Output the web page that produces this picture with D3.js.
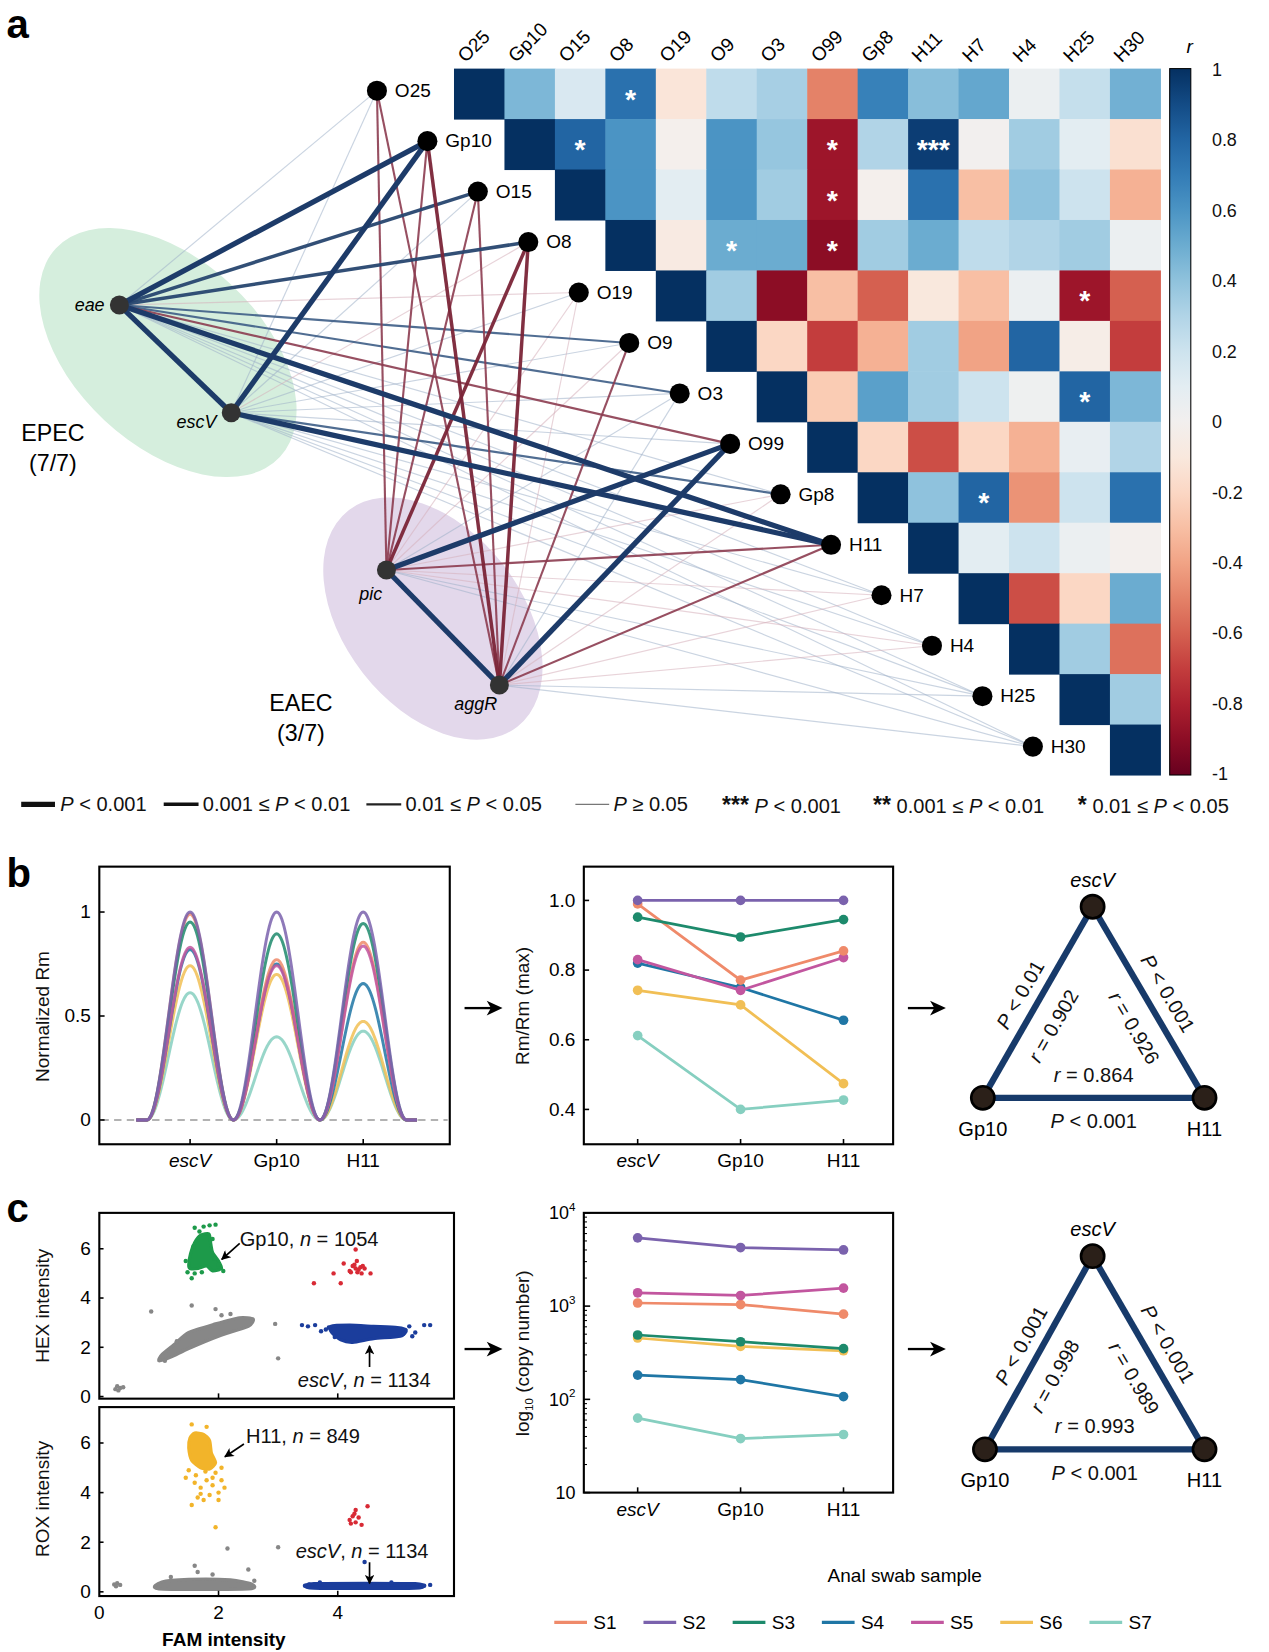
<!DOCTYPE html>
<html><head><meta charset="utf-8">
<script src="https://cdn.jsdelivr.net/npm/d3@7"></script>
<style>body{margin:0;background:#fff} text{font-family:Arial,"Liberation Sans",sans-serif}</style>
</head><body><svg id="fig"></svg>
<script>
// ---------------- DATA ----------------
const targets = ["O25","Gp10","O15","O8","O19","O9","O3","O99","Gp8","H11","H7","H4","H25","H30"];
// upper-triangle correlation rows (each row starts at the diagonal)
const corrRows = [
  [1, 0.45, 0.15, 0.75, -0.12, 0.25, 0.33, -0.5, 0.68, 0.42, 0.52, 0.05, 0.23, 0.48],
  [1, 0.8, 0.6, -0.02, 0.6, 0.38, -0.85, 0.3, 0.95, 0.0, 0.35, 0.1, -0.15],
  [1, 0.6, 0.1, 0.6, 0.35, -0.85, -0.02, 0.75, -0.3, 0.4, 0.2, -0.35],
  [1, -0.08, 0.5, 0.5, -0.9, 0.35, 0.5, 0.25, 0.3, 0.35, 0.05],
  [1, 0.35, -0.9, -0.3, -0.6, -0.1, -0.3, 0.05, -0.85, -0.6],
  [1, -0.2, -0.7, -0.35, 0.35, -0.4, 0.8, -0.05, -0.7],
  [1, -0.25, 0.55, 0.35, 0.2, 0.03, 0.8, 0.45],
  [1, -0.2, -0.65, -0.2, -0.35, 0.07, 0.3],
  [1, 0.4, 0.8, -0.45, 0.2, 0.75],
  [1, 0.1, 0.2, 0.05, -0.01],
  [1, -0.65, -0.2, 0.5],
  [1, 0.35, -0.55],
  [1, 0.35],
  [1]
];
const stars = [[0,3,"*"],[1,2,"*"],[1,7,"*"],[1,9,"***"],[2,7,"*"],[3,5,"*"],[3,7,"*"],[4,12,"*"],[6,12,"*"],[8,10,"*"]];
const cbTicks = [1,0.8,0.6,0.4,0.2,0,-0.2,-0.4,-0.6,-0.8,-1];

const genes = ["eae","escV","pic","aggR"];
const eaeR  = [0.3, 0.9, 0.7, 0.7, -0.2, 0.5, 0.5, -0.6, 0.3, 0.9, 0.2, 0.2, 0.2, 0.2];
const eaeP  = [3,0,1,1,3,2,2,2,3,0,3,3,3,3];
const escVR = [0.3, 0.9, 0.3, -0.3, 0.2, 0.2, 0.3, 0.2, 0.6, 0.9, 0.2, 0.2, 0.2, 0.2];
const escVP = [3,0,3,3,3,3,3,3,2,0,3,3,3,3];
const picR  = [-0.6,-0.6,-0.6,-0.8,-0.2,-0.4,0.2,0.9,-0.2,-0.6,-0.3,-0.3,0.2,0.2];
const picP  = [2,2,2,1,3,3,3,0,3,2,3,3,3,3];
const aggRR = [-0.6,-0.8,-0.6,-0.8,-0.2,-0.5,0.2,0.9,-0.3,-0.6,-0.2,-0.3,0.2,0.2];
const aggRP = [2,1,2,1,3,2,3,0,3,2,3,3,3,3];
const geneGeneEdges = [["eae","escV",0.9,0],["pic","aggR",0.9,0]];

const samples = ["S1","S2","S3","S4","S5","S6","S7"];
const sampleColors = ["#ef8a6a","#7a62ad","#1d8a6c","#1f76a5","#c2569f","#f1bf55","#86cfc0"];
const markers3 = ["escV","Gp10","H11"];
const rmS1 = [0.99, 0.771, 0.855];
const rmS2 = [1.0, 1.0, 1.0];
const rmS3 = [0.952, 0.895, 0.945];
const rmS4 = [0.82, 0.75, 0.656];
const rmS5 = [0.83, 0.742, 0.836];
const rmS6 = [0.742, 0.70, 0.474];
const rmS7 = [0.612, 0.40, 0.427];
const cnS1 = [1080, 1040, 820];
const cnS2 = [5400, 4250, 4000];
const cnS3 = [490, 415, 350];
const cnS4 = [182, 163, 107];
const cnS5 = [1390, 1300, 1560];
const cnS6 = [455, 370, 332];
const cnS7 = [63, 38, 42];
const bTri = {r:["0.902","0.926","0.864"], p:["0.01","0.001","0.001"]};
const cTri = {r:["0.998","0.989","0.993"], p:["0.001","0.001","0.001"]};

// ddPCR scatter (FAM, HEX) and (FAM, ROX)
const hexGreenCore = [[1.5,5.35],[1.53,5.8],[1.6,6.25],[1.7,6.55],[1.84,6.6],[1.87,6.2],[1.9,5.85],[2.0,5.5],[2.05,5.2],[1.9,5.1],[1.8,5.3],[1.66,5.2],[1.52,5.2]];
const hexGreenPts = [[1.6,6.85],[1.75,6.9],[1.85,6.95],[1.95,6.98],[1.55,4.8],[1.6,5.0],[1.45,5.5],[2.08,5.1],[1.48,5.05],[1.93,5.6],[1.68,6.7],[1.9,6.4],[1.58,6.1],[2.0,5.35],[1.72,5.05]];
const hexGrayCore = [[1.0,1.45],[1.2,1.6],[1.5,1.95],[2.0,2.45],[2.5,2.85],[2.58,3.15],[2.35,3.2],[1.95,2.95],[1.5,2.6],[1.25,2.1],[1.05,1.7]];
const hexGrayPts = [[0.87,3.45],[1.55,3.7],[1.95,3.55],[2.05,3.3],[2.95,2.95],[3.0,1.55],[1.1,1.45],[0.27,0.3],[0.3,0.42],[0.35,0.35],[0.4,0.38],[0.32,0.25],[1.3,2.25],[2.2,3.35]];
const hexRedPts = [[3.6,4.6],[3.93,5.0],[4.05,4.6],[4.1,5.4],[4.2,5.1],[4.25,5.3],[4.3,5.2],[4.32,5.5],[4.35,5.15],[4.38,5.25],[4.4,5.0],[4.45,5.2],[4.55,5.0],[4.3,5.97],[4.22,5.05],[4.28,5.35],[4.42,5.3],[4.33,5.05]];
const hexBlueCore = [[3.88,2.85],[4.2,2.9],[4.6,2.85],[5.0,2.8],[5.15,2.7],[5.05,2.45],[4.6,2.35],[4.25,2.2],[4.05,2.3],[3.9,2.6]];
const hexBluePts = [[3.4,2.9],[3.5,2.85],[3.62,2.9],[3.72,2.65],[3.8,2.72],[5.2,2.85],[5.3,2.6],[5.45,2.9],[5.55,2.9],[5.25,2.45],[3.95,2.42],[3.85,2.8],[5.1,2.55]];
const roxYellowCore = [[1.52,6.2],[1.6,6.4],[1.75,6.35],[1.85,6.1],[1.88,5.6],[1.95,5.2],[1.85,4.95],[1.7,5.0],[1.55,5.3],[1.5,5.8]];
const roxYellowPts = [[1.55,6.75],[1.8,6.65],[1.45,4.6],[1.6,4.4],[1.7,4.2],[1.8,4.5],[1.9,4.3],[2.0,4.0],[2.05,4.5],[1.95,4.8],[2.1,4.2],[1.65,3.8],[1.75,3.7],[1.85,3.9],[1.55,3.5],[2.0,3.7],[1.95,2.6],[1.7,3.95],[1.9,4.6],[2.05,5.0],[1.62,4.7],[1.78,4.85],[1.5,4.9]];
const roxGrayCore = [[1.0,0.12],[2.5,0.12],[2.55,0.32],[2.2,0.48],[1.5,0.5],[1.05,0.4]];
const roxGrayPts = [[0.25,0.3],[0.3,0.35],[0.35,0.28],[0.28,0.22],[1.6,1.05],[1.65,0.8],[2.15,1.75],[3.0,1.8],[2.5,0.9],[1.9,0.7],[1.2,0.6],[2.6,0.45]];
const roxRedPts = [[4.2,2.9],[4.25,3.05],[4.3,3.3],[4.3,2.8],[4.35,3.0],[4.4,2.7],[4.5,3.45],[4.28,3.15],[4.22,2.75]];
const roxBlueCore = [[3.6,0.15],[5.3,0.15],[5.3,0.33],[3.6,0.33]];
const roxBluePts = [[3.45,0.25],[5.45,0.25],[5.55,0.28],[4.45,1.2],[3.52,0.3],[5.38,0.2],[3.7,0.38],[4.9,0.38]];

// ---------------- DRAW ----------------
const svg = d3.select("#fig").attr("width",1269).attr("height",1652).attr("viewBox","0 0 1202 1565");
svg.append("rect").attr("width",1202).attr("height",1565).attr("fill","#fff");
const defs = svg.append("defs");
defs.append("marker").attr("id","ah").attr("viewBox","0 0 10 10").attr("refX",9).attr("refY",5)
  .attr("markerWidth",11).attr("markerHeight",9).attr("markerUnits","userSpaceOnUse").attr("orient","auto")
  .append("path").attr("d","M0,0 L10,5 L0,10 L2.5,5 Z").attr("fill","#000");

function richText(g, x, y, parts, opts={}) {
  const t = g.append("text").attr("x",x).attr("y",y).attr("font-size",opts.size||19).attr("fill",opts.fill||"#111")
    .attr("text-anchor",opts.anchor||"start");
  if (opts.transform) t.attr("transform",opts.transform);
  if (opts.baseline) t.attr("dominant-baseline",opts.baseline);
  parts.forEach(p => {
    const s = t.append("tspan").text(p[0]);
    if (p[1]==="i") s.attr("font-style","italic");
    if (p[1]==="b") s.attr("font-weight","bold").attr("font-size",(opts.size||19)*1.15);
    if (p[1]==="sub") s.attr("font-size",(opts.size||19)*0.6).attr("dy",4);
    if (p[1]==="after") s.attr("dy",-4);
  });
  return t;
}
function panelLetter(l,x,y){ svg.append("text").attr("x",x).attr("y",y).attr("font-size",38).attr("font-weight","bold").text(l); }

// ===== Panel a =====
panelLetter("a",6,36);
const cs = 47.8, hx0 = 430, hy0 = 65;
const xH = d3.scaleBand().domain(targets).range([hx0, hx0+cs*targets.length]);
const yH = d3.scaleBand().domain(targets).range([hy0, hy0+cs*targets.length]);
const color = d3.scaleSequential(d3.interpolateRdBu).domain([-1,1]);
const gA = svg.append("g");

// ellipses
gA.append("ellipse").attr("cx",159).attr("cy",334).attr("rx",145).attr("ry",88)
  .attr("transform","rotate(43,159,334)").attr("fill","#d5eedd");
gA.append("ellipse").attr("cx",410).attr("cy",586).attr("rx",130).attr("ry",84)
  .attr("transform","rotate(52,410,586)").attr("fill","#e3d8eb");
gA.append("text").attr("x",50).attr("y",418).attr("font-size",22).attr("text-anchor","middle").text("EPEC");
gA.append("text").attr("x",50).attr("y",446).attr("font-size",22).attr("text-anchor","middle").text("(7/7)");
gA.append("text").attr("x",285).attr("y",674).attr("font-size",22).attr("text-anchor","middle").text("EAEC");
gA.append("text").attr("x",285).attr("y",702).attr("font-size",22).attr("text-anchor","middle").text("(3/7)");

const genePos = {eae:[113,289], escV:[219,391], pic:[366,540], aggR:[473,649]};
const tPos = t => [xH(t) - 73, yH(t) + cs/2 - 3];
const geneR = {eae:eaeR, escV:escVR, pic:picR, aggR:aggRR};
const geneP = {eae:eaeP, escV:escVP, pic:picP, aggR:aggRP};
const wByP = [5, 3.3, 2, 1.1];
const posCol = ["#1d3b69","#27466f","#3d5d86","#9fb0c8"];
const negCol = ["#6c1a2e","#7a2437","#8c3c50","#d6afba"];
const opByP = [1, 0.95, 0.9, 0.55];
let edges = [];
genes.forEach(g => targets.forEach((t,i) => edges.push({a:genePos[g], b:tPos(t), r:geneR[g][i], p:geneP[g][i]})));
geneGeneEdges.forEach(e => edges.push({a:genePos[e[0]], b:genePos[e[1]], r:e[2], p:e[3]}));
edges.sort((u,v)=>v.p-u.p);
gA.selectAll("line.edge").data(edges).join("line").attr("class","edge")
  .attr("x1",d=>d.a[0]).attr("y1",d=>d.a[1]).attr("x2",d=>d.b[0]).attr("y2",d=>d.b[1])
  .attr("stroke",d=>d.r>=0?posCol[d.p]:negCol[d.p]).attr("stroke-width",d=>wByP[d.p])
  .attr("stroke-opacity",d=>opByP[d.p]);

// target nodes
targets.forEach(t => {
  const [x,y] = tPos(t);
  gA.append("circle").attr("cx",x).attr("cy",y).attr("r",9.5).attr("fill","#000");
  gA.append("text").attr("x",x+17).attr("y",y+6).attr("font-size",18).text(t);
});
// gene nodes
const geneLab = {eae:[-14,6], escV:[-14,14], pic:[-4,28], aggR:[-2,24]};
genes.forEach(g => {
  const [x,y] = genePos[g];
  gA.append("circle").attr("cx",x).attr("cy",y).attr("r",9).attr("fill","#333");
  gA.append("text").attr("x",x+geneLab[g][0]).attr("y",y+geneLab[g][1]).attr("font-size",17)
    .attr("font-style","italic").attr("text-anchor","end").text(g);
});

// heatmap
const cells = [];
corrRows.forEach((row,i) => row.forEach((v,k) => cells.push({r:targets[i], c:targets[i+k], v})));
gA.selectAll("rect.cell").data(cells).join("rect").attr("class","cell")
  .attr("x",d=>xH(d.c)).attr("y",d=>yH(d.r)).attr("width",xH.bandwidth()+0.5).attr("height",yH.bandwidth()+0.5)
  .attr("fill",d=>color(d.v));
gA.selectAll("text.star").data(stars).join("text").attr("class","star")
  .attr("x",d=>xH(targets[d[1]])+cs/2).attr("y",d=>yH(targets[d[0]])+cs/2+14)
  .attr("text-anchor","middle").attr("font-size",27).attr("font-weight","bold").attr("fill","#fff").text(d=>d[2]);
targets.forEach(t => {
  const x = xH(t)+cs/2-13, y = 60;
  gA.append("text").attr("x",x).attr("y",y).attr("font-size",18).attr("transform",`rotate(-45,${x},${y})`).text(t);
});

// colorbar
const cbx = 1108, cbw = 20, cbTop = hy0, cbBot = hy0+cs*targets.length;
const grad = defs.append("linearGradient").attr("id","cbg").attr("x1",0).attr("y1",1).attr("x2",0).attr("y2",0);
d3.range(0,1.0001,0.05).forEach(s => grad.append("stop").attr("offset",s).attr("stop-color",color(-1+2*s)));
gA.append("rect").attr("x",cbx).attr("y",cbTop).attr("width",cbw).attr("height",cbBot-cbTop)
  .attr("fill","url(#cbg)").attr("stroke","#000").attr("stroke-width",1);
const cbScale = d3.scaleLinear().domain([-1,1]).range([cbBot-1, cbTop+1]);
const cbAxis = d3.axisRight(cbScale).tickValues(cbTicks).tickSize(0).tickPadding(20)
  .tickFormat(d => Math.abs(d)===1||d===0 ? String(d) : d.toFixed(1));
const cbG = gA.append("g").attr("transform",`translate(${cbx+cbw},0)`).call(cbAxis);
cbG.select(".domain").remove();
cbG.selectAll("text").attr("font-size",17).attr("fill","#111").attr("font-family","Arial, Liberation Sans, sans-serif");
gA.append("text").attr("x",1124).attr("y",50).attr("font-size",18).attr("font-style","italic").text("r");

// legend row
const ly = 768;
const legG = svg.append("g");
[[20,52,5,"#111"],[155,188,3.3,"#111"],[347,380,2,"#222"],[545,577,1.1,"#777"]].forEach(l =>
  legG.append("line").attr("x1",l[0]).attr("x2",l[1]).attr("y1",ly-6).attr("y2",ly-6).attr("stroke",l[3]).attr("stroke-width",l[2]));
richText(legG,57,ly,[["P","i"],[" < 0.001"]]);
richText(legG,192,ly,[["0.001 ≤ "],["P","i"],[" < 0.01"]]);
richText(legG,384,ly,[["0.01 ≤ "],["P","i"],[" < 0.05"]]);
richText(legG,581,ly,[["P","i"],[" ≥ 0.05"]]);
richText(legG,684,ly+2,[["***","b"],[" "],["P","i"],[" < 0.001"]]);
richText(legG,827,ly+2,[["**","b"],[" 0.001 ≤ "],["P","i"],[" < 0.01"]]);
richText(legG,1021,ly+2,[["*","b"],[" 0.01 ≤ "],["P","i"],[" < 0.05"]]);

// ===== helpers =====
function frame(g,x0,y0,x1,y1){ g.append("rect").attr("x",x0).attr("y",y0).attr("width",x1-x0).attr("height",y1-y0).attr("fill","none").attr("stroke","#000").attr("stroke-width",2); }
function bigArrow(x0,x1,y){ svg.append("line").attr("x1",x0).attr("x2",x1-10).attr("y1",y).attr("y2",y).attr("stroke","#000").attr("stroke-width",2.2);
  svg.append("path").attr("d",`M${x1},${y} L${x1-15},${y-7} L${x1-11},${y} L${x1-15},${y+7} Z`).attr("fill","#000"); }
function yLabel(g,x,y,parts,size=18){ return richText(g,x,y,parts,{size,anchor:"middle",transform:`rotate(-90,${x},${y})`}); }
function xCatLabels(g,sc,y){ markers3.forEach(m => g.append("text").attr("x",sc(m)).attr("y",y).attr("font-size",18)
  .attr("text-anchor","middle").attr("font-style",m==="escV"?"italic":"normal").text(m)); }
function xCatTicks(g,sc,yb){ markers3.forEach(m => g.append("line").attr("x1",sc(m)).attr("x2",sc(m)).attr("y1",yb).attr("y2",yb-5).attr("stroke","#000").attr("stroke-width",1.5)); }
function yTicks(g,sc,vals,fmt,x0,len=5){ vals.forEach(v => { g.append("line").attr("x1",x0).attr("x2",x0+len).attr("y1",sc(v)).attr("y2",sc(v)).attr("stroke","#000").attr("stroke-width",1.5);
  g.append("text").attr("x",x0-8).attr("y",sc(v)+6).attr("font-size",18).attr("text-anchor","end").text(fmt(v)); }); }

// ===== Panel b =====
panelLetter("b",6,840);
const gB = svg.append("g");
const rmAll = [rmS1,rmS2,rmS3,rmS4,rmS5,rmS6,rmS7];
const xBL = d3.scalePoint().domain(markers3).range([180,344]);
const yBL = d3.scaleLinear().domain([0,1]).range([1061,864]);
const halfW = (xBL("Gp10")-xBL("escV"))/2;
gB.append("line").attr("x1",96).attr("x2",424).attr("y1",yBL(0)).attr("y2",yBL(0)).attr("stroke","#999").attr("stroke-width",1.5).attr("stroke-dasharray","7,5");
function bumpPath(vals){
  const pts = [];
  for (let x = xBL("escV")-halfW-10; x <= xBL("H11")+halfW+10; x += 1) {
    let v = 0;
    markers3.forEach((m,i) => { const c = xBL(m); if (Math.abs(x-c) <= halfW) v = vals[i]*(0.5+0.5*Math.cos(Math.PI*(x-c)/halfW)); });
    pts.push([x, yBL(v)]);
  }
  return d3.line()(pts);
}
[6,5,3,0,2,4,1].forEach(i => gB.append("path").attr("d",bumpPath(rmAll[i])).attr("fill","none")
  .attr("stroke",sampleColors[i]).attr("stroke-width",2.8).attr("stroke-opacity",0.85));
frame(gB,94,821,426,1084);
yTicks(gB,yBL,[0,0.5,1],d=>String(d),94);
xCatTicks(gB,xBL,1084); xCatLabels(gB,xBL,1106);
yLabel(gB,46,963,[["Normalized Rm"]]);
bigArrow(440,476,955);

const xM = d3.scalePoint().domain(markers3).range([604,799]);
const yBM = d3.scaleLinear().domain([0.4,1.0]).range([1051,853]);
[6,5,3,4,0,2,1].forEach(i => {
  const pts = markers3.map((m,k)=>[xM(m), yBM(rmAll[i][k])]);
  gB.append("path").attr("d",d3.line()(pts)).attr("fill","none").attr("stroke",sampleColors[i]).attr("stroke-width",2.6);
  gB.selectAll(null).data(pts).join("circle").attr("cx",d=>d[0]).attr("cy",d=>d[1]).attr("r",4.6).attr("fill",sampleColors[i]);
});
frame(gB,553,821,846,1084);
yTicks(gB,yBM,[0.4,0.6,0.8,1.0],d=>d.toFixed(1),553);
xCatTicks(gB,xM,1084); xCatLabels(gB,xM,1106);
yLabel(gB,501,953,[["Rm/Rm (max)"]]);
bigArrow(860,896,955);

function triangle(g, top, left, right, labs){
  const edgeC = "#173a6a";
  [[top,left],[top,right],[left,right]].forEach(e => g.append("line").attr("x1",e[0][0]).attr("y1",e[0][1]).attr("x2",e[1][0]).attr("y2",e[1][1])
    .attr("stroke",edgeC).attr("stroke-width",6));
  [top,left,right].forEach(p => g.append("circle").attr("cx",p[0]).attr("cy",p[1]).attr("r",11).attr("fill","#2b2019").attr("stroke","#000").attr("stroke-width",2.5));
  g.append("text").attr("x",top[0]).attr("y",top[1]-19).attr("font-size",19).attr("font-style","italic").attr("text-anchor","middle").text("escV");
  g.append("text").attr("x",left[0]).attr("y",left[1]+36).attr("font-size",19).attr("text-anchor","middle").text("Gp10");
  g.append("text").attr("x",right[0]).attr("y",right[1]+36).attr("font-size",19).attr("text-anchor","middle").text("H11");
  function place(a,b,normOff,alongOff,parts){
    const mx=(a[0]+b[0])/2, my=(a[1]+b[1])/2, dx=b[0]-a[0], dy=b[1]-a[1], L=Math.hypot(dx,dy);
    const ux=dx/L, uy=dy/L; const nx=uy, ny=-ux;
    const ang = Math.atan2(dy,dx)*180/Math.PI;
    const x = mx+nx*normOff+ux*alongOff, y = my+ny*normOff+uy*alongOff;
    richText(g,x,y,parts,{size:19,anchor:"middle",baseline:"central",transform:`rotate(${ang},${x},${y})`});
  }
  place(left,top,18,-2,[["P","i"],[" < "+labs.p[0]]]);
  place(left,top,-24,-12,[["r","i"],[" = "+labs.r[0]]]);
  place(top,right,20,2,[["P","i"],[" < "+labs.p[1]]]);
  place(top,right,-24,14,[["r","i"],[" = "+labs.r[1]]]);
  richText(g,(left[0]+right[0])/2,left[1]-15,[["r","i"],[" = "+labs.r[2]]],{size:19,anchor:"middle"});
  richText(g,(left[0]+right[0])/2,left[1]+29,[["P","i"],[" < "+labs.p[2]]],{size:19,anchor:"middle"});
}
triangle(gB,[1035,859],[931,1040],[1141,1040],bTri);

// ===== Panel c =====
panelLetter("c",6,1158);
const gC = svg.append("g");
const xS = d3.scaleLinear().domain([0,5.95]).range([94,430]);
const yTop = d3.scaleLinear().domain([0,6]).range([1323,1183]);
const yBot = d3.scaleLinear().domain([0,6]).range([1508,1367]);
function cluster(core, pts, ys, col){
  if (core) gC.append("path").attr("d",d3.line().x(d=>xS(d[0])).y(d=>ys(d[1])).curve(d3.curveCardinalClosed.tension(0.3))(core))
    .attr("fill",col).attr("stroke",col).attr("stroke-width",3).attr("stroke-linejoin","round");
  gC.selectAll(null).data(pts).join("circle").attr("cx",d=>xS(d[0])).attr("cy",d=>ys(d[1])).attr("r",2.1).attr("fill",col);
}
cluster(hexGrayCore,hexGrayPts,yTop,"#878787");
cluster(hexGreenCore,hexGreenPts,yTop,"#1d9a4a");
cluster(null,hexRedPts,yTop,"#d82a35");
cluster(hexBlueCore,hexBluePts,yTop,"#1b3d9c");
cluster(roxGrayCore,roxGrayPts,yBot,"#878787");
cluster(roxYellowCore,roxYellowPts,yBot,"#f2b42a");
cluster(null,roxRedPts,yBot,"#d82a35");
cluster(roxBlueCore,roxBluePts,yBot,"#1b3d9c");
frame(gC,94,1149,430,1325);
frame(gC,94,1333,430,1512);
yTicks(gC,yTop,[0,2,4,6],d=>String(d),94,4);
yTicks(gC,yBot,[0,2,4,6],d=>String(d),94,4);
[2,4].forEach(v => { gC.append("line").attr("x1",xS(v)).attr("x2",xS(v)).attr("y1",1325).attr("y2",1320).attr("stroke","#000").attr("stroke-width",1.5);
  gC.append("line").attr("x1",xS(v)).attr("x2",xS(v)).attr("y1",1512).attr("y2",1507).attr("stroke","#000").attr("stroke-width",1.5); });
[0,2,4].forEach(v => gC.append("text").attr("x",xS(v)).attr("y",1534).attr("font-size",18).attr("text-anchor","middle").text(v));
gC.append("text").attr("x",212).attr("y",1559).attr("font-size",18).attr("font-weight","bold").attr("text-anchor","middle").text("FAM intensity");
yLabel(gC,46,1237,[["HEX intensity"]]);
yLabel(gC,46,1420,[["ROX intensity"]]);
function annArrow(x1,y1,x2,y2){ gC.append("line").attr("x1",x1).attr("y1",y1).attr("x2",x2).attr("y2",y2).attr("stroke","#000").attr("stroke-width",1.6).attr("marker-end","url(#ah)"); }
richText(gC,227,1180,[["Gp10, "],["n","i"],[" = 1054"]],{size:19});
annArrow(227,1178,210,1193);
richText(gC,282,1314,[["escV","i"],[", "],["n","i"],[" = 1134"]],{size:19});
annArrow(350,1295,350,1275);
richText(gC,233,1367,[["H11, "],["n","i"],[" = 849"]],{size:19});
annArrow(231,1368,213,1380);
richText(gC,280,1476,[["escV","i"],[", "],["n","i"],[" = 1134"]],{size:19});
annArrow(350,1480,350,1500);
bigArrow(440,476,1278);

const cnAll = [cnS1,cnS2,cnS3,cnS4,cnS5,cnS6,cnS7];
const yCM = d3.scaleLog().domain([10,10000]).range([1414,1149]);
[6,3,5,2,0,4,1].forEach(i => {
  const pts = markers3.map((m,k)=>[xM(m), yCM(cnAll[i][k])]);
  gC.append("path").attr("d",d3.line()(pts)).attr("fill","none").attr("stroke",sampleColors[i]).attr("stroke-width",2.6);
  gC.selectAll(null).data(pts).join("circle").attr("cx",d=>d[0]).attr("cy",d=>d[1]).attr("r",4.6).attr("fill",sampleColors[i]);
});
frame(gC,553,1149,846,1414);
[10,100,1000,10000].forEach((v,k) => {
  gC.append("line").attr("x1",553).attr("x2",559).attr("y1",yCM(v)).attr("y2",yCM(v)).attr("stroke","#000").attr("stroke-width",1.5);
  const t = gC.append("text").attr("x",545).attr("y",yCM(v)+6).attr("font-size",17).attr("text-anchor","end");
  if (k===0) t.text("10"); else { t.append("tspan").text("10"); t.append("tspan").attr("font-size",11).attr("dy",-8).text(k+1); }
  if (v < 10000) d3.range(2,10).forEach(m => gC.append("line").attr("x1",553).attr("x2",556).attr("y1",yCM(v*m)).attr("y2",yCM(v*m)).attr("stroke","#000").attr("stroke-width",1));
});
xCatTicks(gC,xM,1414); xCatLabels(gC,xM,1436);
richText(gC,501,1282,[["log"],["10","sub"],[" (copy number)","after"]],{size:18,anchor:"middle",transform:"rotate(-90,501,1282)"});
bigArrow(860,896,1278);
triangle(gC,[1035,1190],[933,1373],[1141,1373],cTri);

gC.append("text").attr("x",857).attr("y",1499).attr("font-size",18).attr("text-anchor","middle").text("Anal swab sample");
samples.forEach((s,i) => {
  const x = 525 + i*84.5;
  gC.append("line").attr("x1",x).attr("x2",x+31).attr("y1",1537).attr("y2",1537).attr("stroke",sampleColors[i]).attr("stroke-width",3);
  gC.append("text").attr("x",x+37).attr("y",1543).attr("font-size",18).text(s);
});
</script></body></html>
